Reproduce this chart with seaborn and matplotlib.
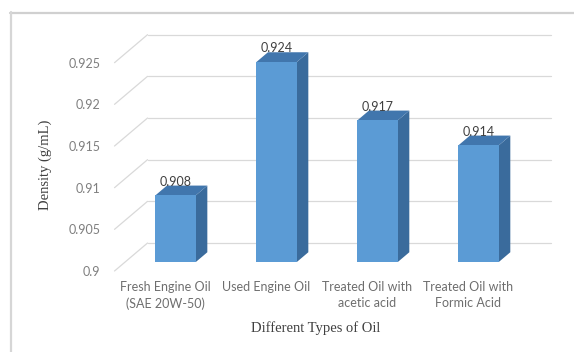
import matplotlib
matplotlib.use("Agg")
import matplotlib.pyplot as plt
from matplotlib.patches import Polygon
from matplotlib.lines import Line2D
import seaborn as sns
import pandas as pd

# ---- data -------------------------------------------------------------
categories = ["Fresh Engine Oil\n(SAE 20W-50)", "Used Engine Oil",
              "Treated Oil with\nacetic acid", "Treated Oil with\nFormic Acid"]
density = [0.908, 0.924, 0.917, 0.914]
value_labels = ["0.908", "0.924", "0.917", "0.914"]
y_ticks = [0.9, 0.905, 0.91, 0.915, 0.92, 0.925]
y_tick_labels = ["0.9", "0.905", "0.91", "0.915", "0.92", "0.925"]

# ---- 3-D look (oblique projection) ------------------------------------
BASE = 0.9          # floor of the value axis
WALL_DX = 0.327     # depth of the box along x (category units)
WALL_DY = 0.00336   # depth of the box along y (g/mL units)
BAR_FRONT = 0.32    # depth fraction of the bar front faces
BAR_BACK = 0.67     # depth fraction of the bar back faces
BAR_WIDTH = 0.4

FRONT_C = "#5B9BD5"
SIDE_C = "#3A6B9C"
TOP_C = "#4176AD"
GRID_C = "#D9D9D9"

sns.set_theme(style="white")
plt.rcParams["font.family"] = ["Lato", "DejaVu Sans"]

fig = plt.figure(figsize=(5.74, 3.52), dpi=100)
ax = fig.add_axes([0.1995, 0.2301, 0.7613, 0.7102])

df = pd.DataFrame({"oil": categories, "density": density})
sns.barplot(data=df, x="oil", y="density", width=BAR_WIDTH, color=FRONT_C,
            saturation=1, linewidth=0, ax=ax, zorder=3)

fdx, fdy = BAR_FRONT * WALL_DX, BAR_FRONT * WALL_DY
bdx, bdy = BAR_BACK * WALL_DX, BAR_BACK * WALL_DY

for bar, lab in zip(ax.patches, value_labels):
    x0 = bar.get_x()
    w = bar.get_width()
    top = bar.get_height()
    # front face: move the seaborn bar onto the front plane of the bar block
    bar.set_x(x0 + fdx)
    bar.set_y(BASE + fdy)
    bar.set_height(top - BASE)
    # right side face
    side = [(x0 + w + fdx, BASE + fdy), (x0 + w + bdx, BASE + bdy),
            (x0 + w + bdx, top + bdy), (x0 + w + fdx, top + fdy)]
    ax.add_patch(Polygon(side, closed=True, facecolor=SIDE_C,
                         edgecolor="none", zorder=2))
    # top face
    cap = [(x0 + fdx, top + fdy), (x0 + w + fdx, top + fdy),
           (x0 + w + bdx, top + bdy), (x0 + bdx, top + bdy)]
    ax.add_patch(Polygon(cap, closed=True, facecolor=TOP_C,
                         edgecolor="none", zorder=2))
    ax.text(x0 + w / 2 + fdx, top + bdy, lab, ha="center", va="baseline",
            fontsize=9, color="#404040", zorder=5)

# back wall and side wall gridlines
n = len(categories)
left, right = -0.5, n - 0.5
for v in y_ticks:
    ax.plot([left, left + WALL_DX], [v, v + WALL_DY], color=GRID_C,
            lw=0.9, zorder=0, clip_on=False)
    ax.plot([left + WALL_DX, right + WALL_DX], [v + WALL_DY, v + WALL_DY],
            color=GRID_C, lw=0.9, zorder=0, clip_on=False)

ax.set_xlim(left, right + WALL_DX)
ax.set_ylim(BASE, 0.93)
ax.set_yticks(y_ticks, y_tick_labels)
ax.set_xticks(range(n), categories)
ax.tick_params(axis="y", length=0, pad=10, labelsize=9, labelcolor="#7F7F7F")
ax.tick_params(axis="x", length=0, pad=7, labelsize=9, labelcolor="#6E6E6E")
for t in ax.get_xticklabels():
    t.set_linespacing(1.45)
for s in ax.spines.values():
    s.set_visible(False)
ax.set_xlabel("")
ax.set_ylabel("")
ax.patch.set_alpha(0)

serif = ["Liberation Serif", "DejaVu Serif"]
fig.text(316 / 574, 1 - 328 / 352, "Different Types of Oil", ha="center",
         va="center", fontsize=10.5, color="#404040", family=serif)
fig.text(45 / 574, 1 - 165 / 352, "Density (g/mL)", ha="center", va="center",
         rotation=90, fontsize=10.5, color="#404040", family=serif)

# chart border (top and left edges)
fig.add_artist(Line2D([10 / 574, 1], [1 - 12.5 / 352, 1 - 12.5 / 352],
                      transform=fig.transFigure, color="#D0D0D0", lw=1.6))
fig.add_artist(Line2D([10.5 / 574, 10.5 / 574], [0, 1 - 12 / 352],
                      transform=fig.transFigure, color="#D6D6D6", lw=1.6))

fig.savefig("out.png", dpi=100)
